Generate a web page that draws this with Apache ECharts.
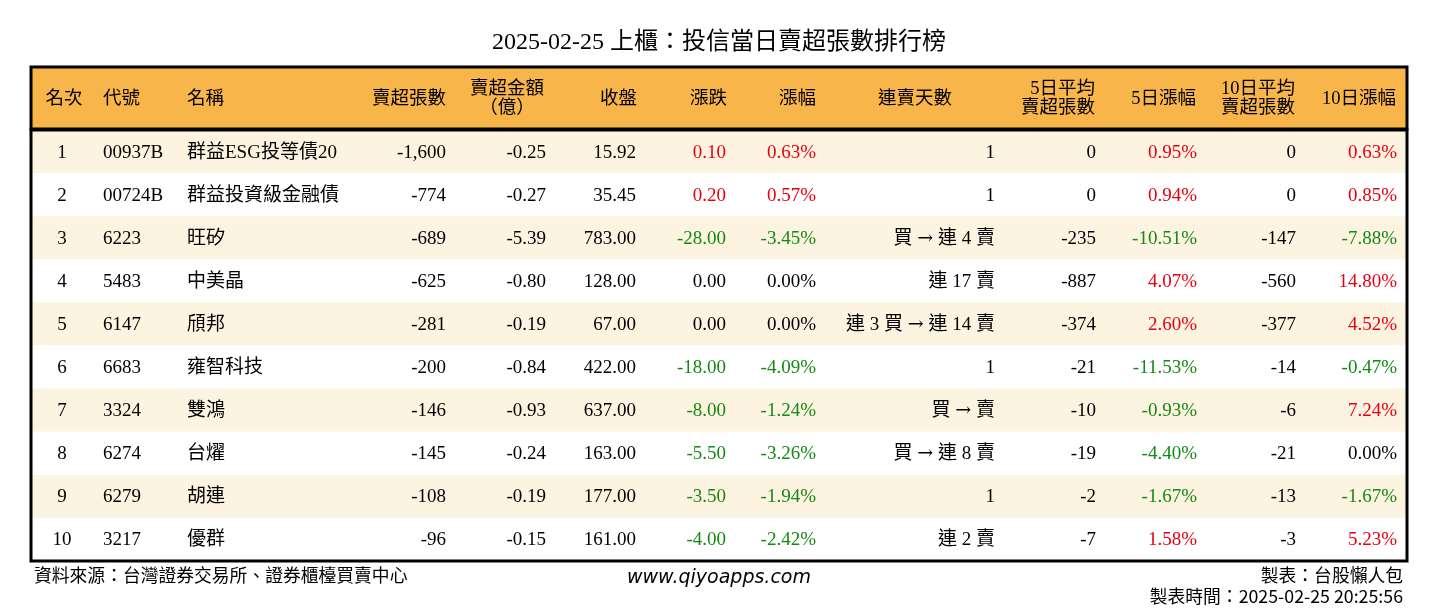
<!DOCTYPE html>
<html>
<head>
<meta charset="utf-8">
<script src="https://cdn.jsdelivr.net/npm/echarts@6/dist/echarts.min.js"></script>
<style>
  html, body { margin: 0; padding: 0; background: #fff; }
  #main { width: 1438px; height: 612px; }
</style>
</head>
<body>
<div id="main"></div>
<script>
// table data
const ranks = ['1', '2', '3', '4', '5', '6', '7', '8', '9', '10']
const codes = ['00937B', '00724B', '6223', '5483', '6147', '6683', '3324', '6274', '6279', '3217']
const names = ['群益ESG投等債20', '群益投資級金融債', '旺矽', '中美晶', '頎邦', '雍智科技', '雙鴻', '台燿', '胡連', '優群']
const netSell = [-1600, -774, -689, -625, -281, -200, -146, -145, -108, -96]
const amount = [-0.25, -0.27, -5.39, -0.80, -0.19, -0.84, -0.93, -0.24, -0.19, -0.15]
const closes = [15.92, 35.45, 783.00, 128.00, 67.00, 422.00, 637.00, 163.00, 177.00, 161.00]
const change = [0.10, 0.20, -28.00, 0.00, 0.00, -18.00, -8.00, -5.50, -3.50, -4.00]
const changePct = [0.63, 0.57, -3.45, 0.00, 0.00, -4.09, -1.24, -3.26, -1.94, -2.42]
const streak = ['1', '1', '買 → 連 4 賣', '連 17 賣', '連 3 買 → 連 14 賣', '1', '買 → 賣', '買 → 連 8 賣', '1', '連 2 賣']
const avg5 = [0, 0, -235, -887, -374, -21, -10, -19, -2, -7]
const pct5 = [0.95, 0.94, -10.51, 4.07, 2.60, -11.53, -0.93, -4.40, -1.67, 1.58]
const avg10 = [0, 0, -147, -560, -377, -14, -6, -21, -13, -3]
const pct10 = [0.63, 0.85, -7.88, 14.80, 4.52, -0.47, 7.24, 0.00, -1.67, 5.23]

const headers = ['名次', '代號', '名稱', '賣超張數', '賣超金額\n（億）', '收盤', '漲跌', '漲幅', '連賣天數',
  '5日平均\n賣超張數', '5日漲幅', '10日平均\n賣超張數', '10日漲幅']

const FONT = "'Liberation Serif', 'Noto Sans CJK TC', serif"
const FOOT = "'Noto Sans CJK TC'"
const RED = '#e60012'
const GREEN = '#138a13'

// column anchors along the table's x axis (0..1376) and text alignment
const bodyCols = [
  { x: 31, align: 'center' },
  { x: 72, align: 'left' },
  { x: 156, align: 'left' },
  { x: 415, align: 'right' },
  { x: 515, align: 'right' },
  { x: 605, align: 'right' },
  { x: 695, align: 'right' },
  { x: 785, align: 'right' },
  { x: 964, align: 'right' },
  { x: 1065, align: 'right' },
  { x: 1166, align: 'right' },
  { x: 1265, align: 'right' },
  { x: 1366, align: 'right' },
]
const headCols = [
  { x: 33, align: 'center' },
  { x: 72, align: 'left' },
  { x: 156, align: 'left' },
  { x: 415, align: 'right' },
  { x: 476, align: 'center' },
  { x: 606, align: 'right' },
  { x: 696, align: 'right' },
  { x: 785, align: 'right' },
  { x: 884, align: 'center' },
  { x: 1064, align: 'right' },
  { x: 1165, align: 'right' },
  { x: 1264, align: 'right' },
  { x: 1365, align: 'right' },
]

function signColor(v) {
  if (v > 0) return RED
  if (v < 0) return GREEN
  return '#000'
}
function thousands(v) {
  return v.toLocaleString('en-US')
}

function rowCells(i) {
  return [
    { t: ranks[i] },
    { t: codes[i] },
    { t: names[i] },
    { t: thousands(netSell[i]) },
    { t: amount[i].toFixed(2) },
    { t: closes[i].toFixed(2) },
    { t: change[i].toFixed(2), c: signColor(change[i]) },
    { t: changePct[i].toFixed(2) + '%', c: signColor(changePct[i]) },
    // arrow gets its own rich style so it is drawn long like the original
    { t: streak[i].replace('→', '{a|→}') },
    { t: thousands(avg5[i]) },
    { t: pct5[i].toFixed(2) + '%', c: signColor(pct5[i]) },
    { t: thousands(avg10[i]) },
    { t: pct10[i].toFixed(2) + '%', c: signColor(pct10[i]) },
  ]
}

const chart = echarts.init(document.getElementById('main'))

const option = {
  backgroundColor: '#fff',
  animation: false,
  title: [
    {
      text: '2025-02-25 上櫃：投信當日賣超張數排行榜',
      left: 'center', top: 31, padding: 0,
      textStyle: { fontFamily: FONT, fontSize: 24, fontWeight: 'normal', color: '#000' },
    },
    {
      text: '資料來源：台灣證券交易所、證券櫃檯買賣中心',
      left: 34, top: 566, padding: 0,
      textStyle: { fontFamily: FOOT, fontSize: 17.8, fontWeight: 'normal', color: '#000' },
    },
    {
      text: 'www.qiyoapps.com',
      left: 'center', top: 569, padding: 0,
      textStyle: { fontFamily: "'DejaVu Sans'", fontSize: 19, fontStyle: 'italic', fontWeight: 'normal', color: '#000' },
    },
    {
      text: '製表：台股懶人包',
      right: 35, top: 566, padding: 0,
      textStyle: { fontFamily: FOOT, fontSize: 17.8, fontWeight: 'normal', color: '#000' },
    },
    {
      text: '製表時間：2025-02-25 20:25:56',
      right: 35, top: 587, padding: 0,
      textStyle: { fontFamily: FOOT, fontSize: 17.8, fontWeight: 'normal', color: '#000' },
    },
  ],
  grid: [
    {
      left: 31, right: 31, top: 67, height: 62,
      show: true, backgroundColor: '#f8b54a', borderColor: '#000', borderWidth: 3,
    },
    {
      left: 31, right: 31, top: 130, height: 431, z: 10,
      show: true, backgroundColor: 'transparent', borderColor: '#000', borderWidth: 3,
    },
  ],
  xAxis: [
    { type: 'value', gridIndex: 0, min: 0, max: 1376, show: false },
    { type: 'value', gridIndex: 1, min: 0, max: 1376, show: false },
  ],
  yAxis: [
    { type: 'category', gridIndex: 0, data: ['header'], show: false },
    {
      type: 'category', gridIndex: 1, data: ranks, inverse: true,
      axisLine: { show: false }, axisTick: { show: false }, axisLabel: { show: false },
      splitLine: { show: false },
      splitArea: { show: true, areaStyle: { color: ['#fdf3e1', '#ffffff'] } },
    },
  ],
  series: [
    {
      type: 'custom',
      xAxisIndex: 0, yAxisIndex: 0,
      data: [[0, 0]],
      encode: { x: 0, y: 1 },
      clip: false,
      renderItem: function (params, api) {
        const children = headers.map(function (h, k) {
          const p = api.coord([headCols[k].x, 0])
          return {
            type: 'text', x: p[0], y: p[1] + 1,
            style: {
              text: h, fill: '#000', font: '18.5px ' + FONT, lineHeight: 19,
              align: headCols[k].align, verticalAlign: 'middle',
            },
          }
        })
        return { type: 'group', children: children }
      },
    },
    {
      type: 'custom',
      xAxisIndex: 1, yAxisIndex: 1,
      data: ranks.map(function (r, i) { return [0, i] }),
      encode: { x: 0, y: 1 },
      clip: false,
      renderItem: function (params, api) {
        const i = params.dataIndex
        const cells = rowCells(i)
        const children = cells.map(function (c, k) {
          const p = api.coord([bodyCols[k].x, i])
          return {
            type: 'text', x: p[0], y: p[1] + 1,
            style: {
              text: c.t, fill: c.c || '#000', font: '19px ' + FONT,
              align: bodyCols[k].align, verticalAlign: 'middle',
              rich: { a: { fontFamily: "'DejaVu Serif'", fontSize: 19, fill: '#000' } },
            },
          }
        })
        return { type: 'group', children: children }
      },
    },
  ],
}

chart.setOption(option)
</script>
</body>
</html>
